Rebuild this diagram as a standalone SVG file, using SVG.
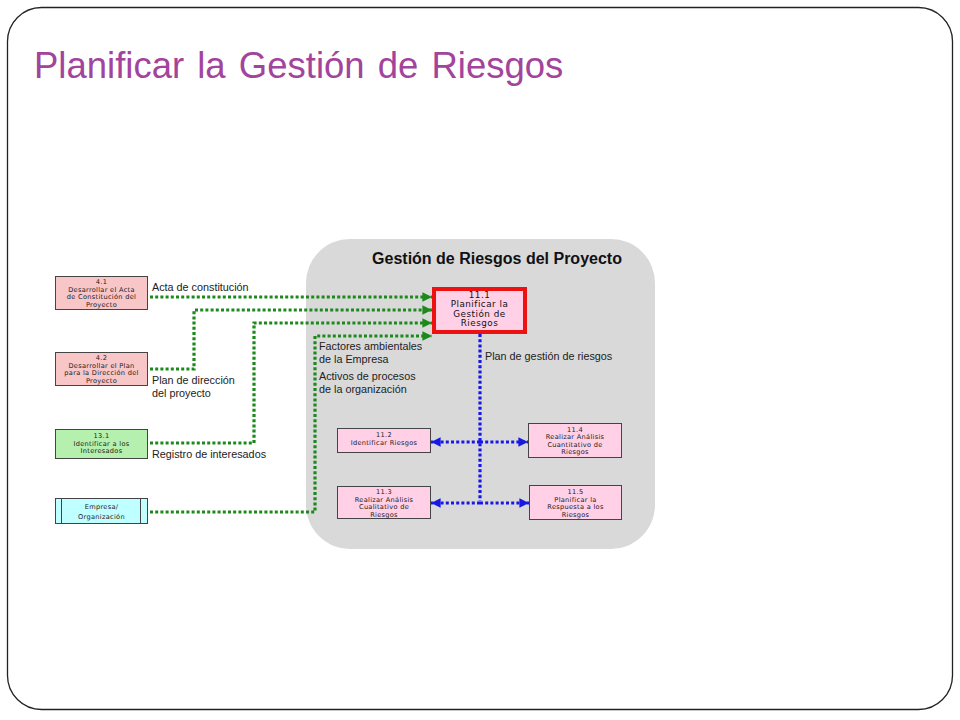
<svg xmlns="http://www.w3.org/2000/svg" width="960" height="720" viewBox="0 0 960 720">
<defs>
<style>
.frame{fill:#fff;stroke:#222;stroke-width:1.3}
.title{font-family:"Liberation Sans",Arial,sans-serif;font-size:36.5px;fill:#a3449c;word-spacing:3px}
.region{fill:#d9d9d9}
.rtitle{font-family:"Liberation Sans",Arial,sans-serif;font-size:16px;font-weight:bold;fill:#111}
.box{stroke:#444;stroke-width:1}
.pink{fill:#f9c6c8}
.mag{fill:#ffd0e6}
.grn{fill:#b5f0ae}
.cyan{fill:#c0ffff}
.bt{font-family:"DejaVu Sans","Liberation Sans",sans-serif;font-size:6.6px;letter-spacing:0.3px;fill:#222;text-anchor:middle}
.bt11{font-family:"DejaVu Sans","Liberation Sans",sans-serif;font-size:8.8px;letter-spacing:0.5px;fill:#111;text-anchor:middle}
.lbl{font-family:"Liberation Sans",Arial,sans-serif;font-size:10.8px;fill:#222}
.g{fill:none;stroke:#1b8a1b;stroke-width:3.2;stroke-dasharray:3 2.2}
.b{fill:none;stroke:#1818e6;stroke-width:3.2;stroke-dasharray:3 2.2}
</style>
<marker id="ag" viewBox="0 0 10 10" refX="10" refY="5" markerWidth="3" markerHeight="3" orient="auto" markerUnits="strokeWidth">
<path d="M0,0 L10,5 L0,10 z" fill="#1b8a1b"/>
</marker>
<marker id="ab" viewBox="0 0 10 10" refX="10" refY="5" markerWidth="3" markerHeight="3" orient="auto" markerUnits="strokeWidth">
<path d="M0,0 L10,5 L0,10 z" fill="#1818e6"/>
</marker>
</defs>
<rect class="frame" x="7.5" y="7.5" width="945" height="702" rx="34" ry="34"/>
<text class="title" x="34" y="78">Planificar la Gestión de Riesgos</text>

<g id="region">
<rect class="region" x="306" y="239" width="349" height="310" rx="44" ry="44"/>
<text class="rtitle" x="497" y="264" text-anchor="middle">Gestión de Riesgos del Proyecto</text>
</g>

<g id="connectors">
<path class="g" d="M150,297 H432" marker-end="url(#ag)"/>
<path class="g" d="M150,369 H194 V310 H432" marker-end="url(#ag)"/>
<path class="g" d="M150,443 H254 V323 H432" marker-end="url(#ag)"/>
<path class="g" d="M150,512 H315 V336 H432" marker-end="url(#ag)"/>
<path class="b" d="M480,334 V501"/>
<path class="b" d="M480,442 H431" marker-end="url(#ab)"/>
<path class="b" d="M480,442 H528" marker-end="url(#ab)"/>
<path class="b" d="M480,503 H431" marker-end="url(#ab)"/>
<path class="b" d="M480,503 H529" marker-end="url(#ab)"/>
<text class="lbl" x="152" y="291">Acta de constitución</text>
<text class="lbl" x="152" y="384">Plan de dirección</text>
<text class="lbl" x="152" y="397">del proyecto</text>
<text class="lbl" x="152" y="458">Registro de interesados</text>
<text class="lbl" x="319" y="350">Factores ambientales</text>
<text class="lbl" x="319" y="362.5">de la Empresa</text>
<text class="lbl" x="319" y="380">Activos de procesos</text>
<text class="lbl" x="319" y="392.5">de la organización</text>
<text class="lbl" x="485" y="360">Plan de gestión de riesgos</text>
</g>

<g id="n41">
<rect class="box pink" x="55.5" y="276.5" width="92" height="33"/>
<text class="bt" x="101.5" y="284">4.1</text>
<text class="bt" x="101.5" y="291.5">Desarrollar el Acta</text>
<text class="bt" x="101.5" y="299">de Constitución del</text>
<text class="bt" x="101.5" y="306.5">Proyecto</text>
</g>
<g id="n42">
<rect class="box pink" x="55.5" y="352.5" width="92" height="33"/>
<text class="bt" x="101.5" y="360">4.2</text>
<text class="bt" x="101.5" y="367.5">Desarrollar el Plan</text>
<text class="bt" x="101.5" y="375">para la Dirección del</text>
<text class="bt" x="101.5" y="382.5">Proyecto</text>
</g>
<g id="n131">
<rect class="box grn" x="55.5" y="429.5" width="92" height="29"/>
<text class="bt" x="101.5" y="438">13.1</text>
<text class="bt" x="101.5" y="445.5">Identificar a los</text>
<text class="bt" x="101.5" y="453">Interesados</text>
</g>
<g id="nemp">
<rect class="box cyan" x="55.5" y="498.5" width="92" height="25"/>
<line class="box" x1="61.5" y1="498.5" x2="61.5" y2="523.5"/>
<line class="box" x1="140.5" y1="498.5" x2="140.5" y2="523.5"/>
<text class="bt" x="101.5" y="509">Empresa/</text>
<text class="bt" x="101.5" y="519">Organización</text>
</g>
<g id="n111">
<rect x="434" y="289" width="91" height="43" fill="#ffd0e6" stroke="#ee1111" stroke-width="4"/>
<text class="bt11" x="479.5" y="297.5">11.1</text>
<text class="bt11" x="479.5" y="307">Planificar la</text>
<text class="bt11" x="479.5" y="316.5">Gestión de</text>
<text class="bt11" x="479.5" y="326">Riesgos</text>
</g>
<g id="n112">
<rect class="box mag" x="337.5" y="428.5" width="93" height="24"/>
<text class="bt" x="384" y="437">11.2</text>
<text class="bt" x="384" y="445">Identificar Riesgos</text>
</g>
<g id="n114">
<rect class="box mag" x="528.5" y="423.5" width="93" height="34"/>
<text class="bt" x="575" y="431.5">11.4</text>
<text class="bt" x="575" y="439">Realizar Análisis</text>
<text class="bt" x="575" y="446.5">Cuantitativo  de</text>
<text class="bt" x="575" y="454">Riesgos</text>
</g>
<g id="n113">
<rect class="box mag" x="337.5" y="486.5" width="93" height="32"/>
<text class="bt" x="384" y="494">11.3</text>
<text class="bt" x="384" y="501.5">Realizar Análisis</text>
<text class="bt" x="384" y="509">Cualitativo  de</text>
<text class="bt" x="384" y="516.5">Riesgos</text>
</g>
<g id="n115">
<rect class="box mag" x="529.5" y="485.5" width="92" height="34"/>
<text class="bt" x="575.5" y="494">11.5</text>
<text class="bt" x="575.5" y="501.5">Planificar la</text>
<text class="bt" x="575.5" y="509">Respuesta a los</text>
<text class="bt" x="575.5" y="516.5">Riesgos</text>
</g>
</svg>
